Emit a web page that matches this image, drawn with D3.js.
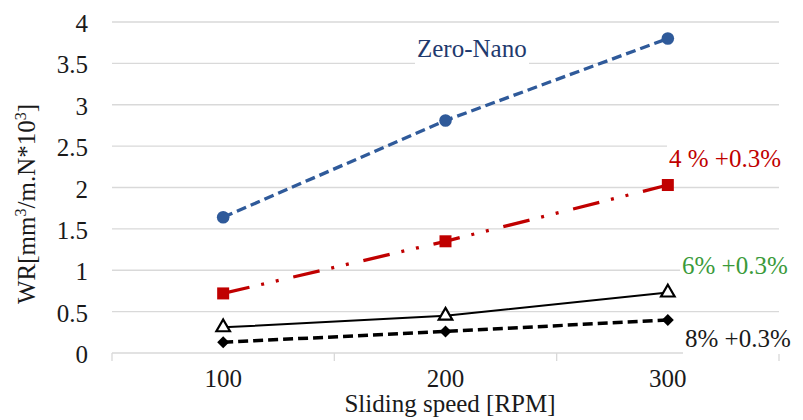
<!DOCTYPE html>
<html lang="en">
<head>
<meta charset="UTF-8">
<title>WR vs sliding speed</title>
<script src="https://cdn.jsdelivr.net/npm/d3@7"></script>
<style>
    body { margin: 0; background: #fff; }
    .grid line { stroke: #d9d9d9; stroke-width: 1.3px; }
</style>
</head>
<body>
<script>
    // data
    const speeds = ["100", "200", "300"];
    const zeroNano = [1.64, 2.81, 3.80];
    const pct4 = [0.72, 1.35, 2.03];
    const pct6 = [0.31, 0.45, 0.73];
    const pct8 = [0.13, 0.26, 0.40];
    const yTicks = [0, 0.5, 1, 1.5, 2, 2.5, 3, 3.5, 4];

    const width = 803, height = 420;
    const plotLeft = 112, plotRight = 779, plotTop = 22, plotBottom = 353;

    const svg = d3.select("body").append("svg").attr("width", width).attr("height", height)
        .attr("font-family", "'Liberation Serif', 'Times New Roman', serif");

    const x = d3.scaleBand().domain(speeds).range([plotLeft, plotRight]);
    const y = d3.scaleLinear().domain([0, 4]).range([plotBottom, plotTop]);
    const cx = d => x(d) + x.bandwidth() / 2;

    // gridlines
    svg.append("g").attr("class", "grid")
        .selectAll("line").data(yTicks).enter().append("line")
        .attr("x1", plotLeft).attr("x2", plotRight)
        .attr("y1", d => y(d)).attr("y2", d => y(d));

    // x axis ticks at band edges
    const edges = [plotLeft].concat(speeds.map(s => x(s) + x.bandwidth()));
    svg.append("g").selectAll("line").data(edges).enter().append("line")
        .attr("x1", d => d).attr("x2", d => d)
        .attr("y1", plotBottom).attr("y2", plotBottom + 8)
        .attr("stroke", "#d9d9d9").attr("stroke-width", 1.3);

    // tick labels
    svg.append("g").selectAll("text").data(yTicks).enter().append("text")
        .attr("x", 88).attr("y", d => y(d) + 10)
        .attr("text-anchor", "end").attr("font-size", 25).attr("fill", "#1a1a1a")
        .text(d => d);
    svg.append("g").selectAll("text").data(speeds).enter().append("text")
        .attr("x", d => cx(d)).attr("y", 387)
        .attr("text-anchor", "middle").attr("font-size", 25).attr("fill", "#1a1a1a")
        .text(d => d);

    // axis titles
    svg.append("text").attr("x", 450).attr("y", 412)
        .attr("text-anchor", "middle").attr("font-size", 25).attr("fill", "#1a1a1a")
        .text("Sliding speed [RPM]");
    const yt = svg.append("text").attr("transform", "translate(35,204) rotate(-90)")
        .attr("text-anchor", "middle").attr("font-size", 25).attr("fill", "#1a1a1a");
    yt.append("tspan").text("WR[mm");
    yt.append("tspan").attr("font-size", 16).attr("dy", -9).text("3");
    yt.append("tspan").attr("dy", 9).text("/m.N*10");
    yt.append("tspan").attr("font-size", 16).attr("dy", -9).text("3");
    yt.append("tspan").attr("dy", 9).text("]");

    // lines
    const line = d3.line().x((d, i) => cx(speeds[i])).y(d => y(d));
    function drawSeries(vals, color, w, dash) {
        svg.append("path").datum(vals)
            .attr("d", line).attr("fill", "none")
            .attr("stroke", color).attr("stroke-width", w)
            .attr("stroke-dasharray", dash);
    }
    drawSeries(zeroNano, "#2f5a9a", 3.3, "10,5");
    drawSeries(pct4, "#c00000", 3.3, "27,12,3,12,3,15");
    drawSeries(pct6, "#000", 2, null);
    drawSeries(pct8, "#000", 3.5, "10,5");

    // markers
    svg.append("g").selectAll("circle").data(zeroNano).enter().append("circle")
        .attr("cx", (d, i) => cx(speeds[i])).attr("cy", d => y(d))
        .attr("r", 6.3).attr("fill", "#2f5a9a");
    svg.append("g").selectAll("rect").data(pct4).enter().append("rect")
        .attr("x", (d, i) => cx(speeds[i]) - 6).attr("y", d => y(d) - 6)
        .attr("width", 12).attr("height", 12).attr("fill", "#c00000");
    svg.append("g").selectAll("path").data(pct6).enter().append("path")
        .attr("d", d3.symbol().type(d3.symbolTriangle).size(80))
        .attr("transform", (d, i) => `translate(${cx(speeds[i])},${y(d)})`)
        .attr("fill", "#fff").attr("stroke", "#000").attr("stroke-width", 2.2);
    svg.append("g").selectAll("path").data(pct8).enter().append("path")
        .attr("d", d3.symbol().type(d3.symbolSquare).size(72))
        .attr("transform", (d, i) => `translate(${cx(speeds[i])},${y(d)}) rotate(45)`)
        .attr("fill", "#000");

    // series labels with white backgrounds
    function label(txt, xx, base, color, bw) {
        svg.append("rect").attr("x", xx - 2).attr("y", base - 24).attr("width", bw).attr("height", 31)
            .attr("fill", "#fff");
        svg.append("text").attr("x", xx).attr("y", base)
            .attr("font-size", 25).attr("fill", color).text(txt);
    }
    label("Zero-Nano", 417, 57, "#1f3a6e", 114);
    label("4 % +0.3%", 669, 167, "#c00000", 122);
    label("6% +0.3%", 682, 274, "#3a9a3a", 115);
    label("8% +0.3%", 685, 347, "#1a1a1a", 115);
</script>
</body>
</html>
